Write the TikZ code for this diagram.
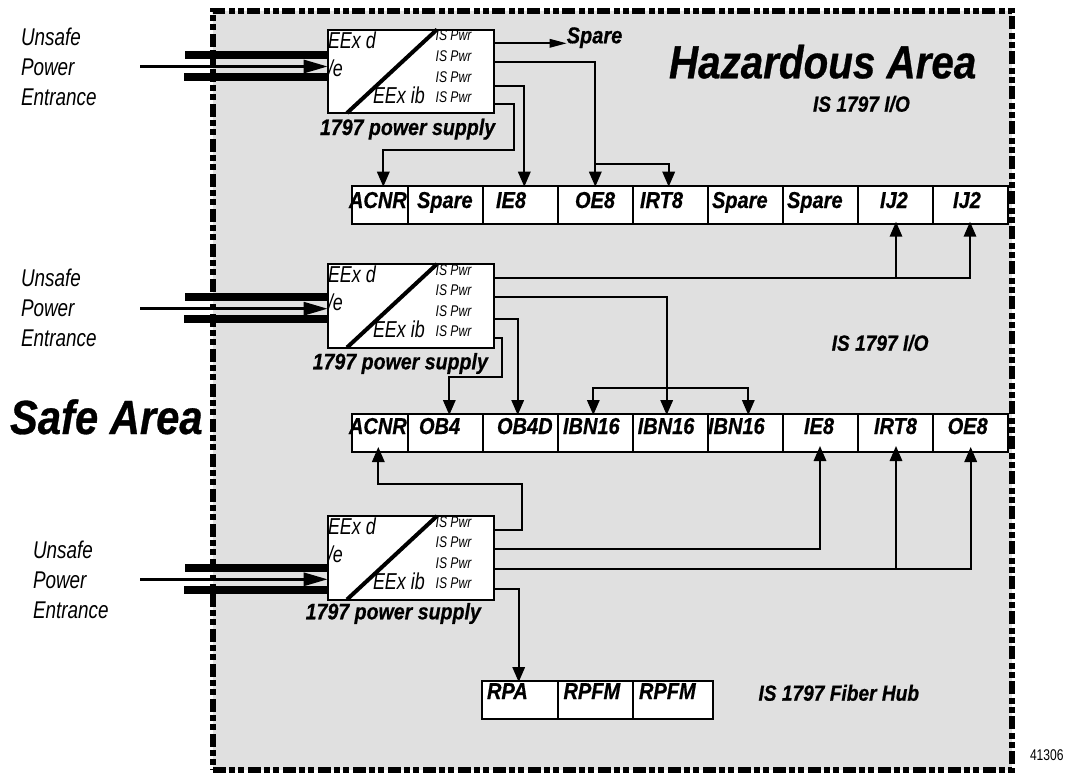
\documentclass[tikz,border=0pt]{standalone}
\usepackage{fontspec}
\setmainfont{Liberation Sans}
\newfontfamily\fbold[FakeStretch=.87,FakeBold=0.6]{Liberation Sans}
\newfontfamily\freg[FakeStretch=.78]{Liberation Sans}
\newcommand\bi[1]{\fontsize{#1}{#1}\fbold\bfseries\itshape}
\newcommand\ri[1]{\fontsize{#1}{#1}\freg\itshape}
\newcommand\ru[1]{\fontsize{#1}{#1}\freg}
\usetikzlibrary{arrows.meta}
\definecolor{hazgray}{HTML}{E0E0E0}
\tikzset{
  lab/.style={anchor=base west,inner sep=0pt,outer sep=0pt},
  cell/.style={draw=black,fill=white,line width=1.6pt,anchor=north west,inner sep=0pt,outer sep=0pt,minimum height=38pt},
  psbox/.style={draw=black,fill=white,line width=2pt,anchor=north west,inner sep=0pt,outer sep=0pt,minimum width=166pt,minimum height=83.5pt},
  conn/.style={draw=black,line width=1.7pt},
  arr/.style={conn,-{Triangle[length=15pt,width=12.5pt]}},
  longarr/.style={conn,-{Triangle[length=17pt,width=8.5pt]}},
  bar/.style={line width=8pt,black},
  inarr/.style={line width=3pt,black,-{Triangle[length=24pt,width=13pt]}},
  zone/.style={draw=black,fill=hazgray,line width=6.5pt,dash pattern=on 13pt off 3pt on 6pt off 3pt on 6pt off 4pt,anchor=north west,inner sep=0pt,outer sep=0pt,minimum width=799pt,minimum height=759pt},
}
% name, top y, port ys, input-bar ys
\newcommand\powerbox[9]{%
  \node[psbox] (#1) at (327.7,#2) {};
  \draw[line width=4pt,black] (347,#2+83.5) -- (437,#2);
  \node[lab,font=\ri{23}] (#1d) at (328,#2+18.5) {EEx d};
  \node[lab,font=\ri{23}] (#1e) at (328,#2+46.5) {/e};
  \node[lab,font=\ri{23}] (#1ib) at (373,#2+73.5) {EEx ib};
  \node[lab,font=\ri{15.5}] (#1ia) at (435.7,#2+11.2) {IS Pwr};
  \node[lab,font=\ri{15.5}] (#1ib2) at (435.7,#2+31.5) {IS Pwr};
  \node[lab,font=\ri{15.5}] (#1ic) at (435.7,#2+52.5) {IS Pwr};
  \node[lab,font=\ri{15.5}] (#1id) at (435.7,#2+72.5) {IS Pwr};
  \coordinate (#1p1) at (493.7,#3);
  \coordinate (#1p2) at (493.7,#4);
  \coordinate (#1p3) at (493.7,#5);
  \coordinate (#1p4) at (493.7,#6);
  \coordinate (#1u) at (185,#7);
  \coordinate (#1l) at (184,#9);
  \coordinate (#1m) at (140,#8);
  \draw[bar] (#1u) -- (#1.west |- #1u);
  \draw[bar] (#1l) -- (#1.west |- #1l);
  \draw[inarr] (#1m) -- (#1.west |- #1m);
}
\begin{document}
\begin{tikzpicture}[x=1pt,y=-1pt]
\useasboundingbox (0,0) rectangle (1073,774);
\fill[white] (0,0) rectangle (1073,774);
\node[zone] (zone) at (213,11) {};

% input bars and boxes
\powerbox{psa}{29.5}{43.3}{62.3}{85.7}{103.7}{54.7}{66.5}{77}
\powerbox{psb}{264}{277.7}{297.3}{319.3}{338.3}{297}{308.7}{319.3}
\powerbox{psc}{516}{529.7}{549}{568.7}{589.3}{568}{579.3}{590}

% row cells
\foreach \n/\x/\w in {a/351.7/56.3,b/408/74.7,c/482.7/75,d/557.7/75,e/632.7/75.3,f/708/75,g/783/74.7,h/857.7/75,i/932.7/75.3}{
  \node[cell,minimum width=\w pt] (ra\n) at (\x,185.7) {};
  \node[cell,minimum width=\w pt] (rb\n) at (\x,414) {};
}
\foreach \n/\x/\w in {a/482/75.7,b/557.7/75,c/632.7/80.3}{
  \node[cell,minimum width=\w pt] (rc\n) at (\x,681) {};
}

% row labels
\foreach \n/\x/\t in {a/349/ACNR,b/417/Spare,c/496/IE8,d/575/OE8,e/640/IRT8,f/712/Spare,g/787/Spare,h/880/IJ2,i/953/IJ2}{
  \node[lab,font=\bi{23}] (la\n) at (\x,208) {\t};
}
\foreach \n/\x/\t in {a/349/ACNR,b/419/OB4,c/497/OB4D,d/563/IBN16,e/637.7/IBN16,f/708/IBN16,g/804/IE8,h/874/IRT8,i/947.7/OE8}{
  \node[lab,font=\bi{23}] (lb\n) at (\x,434) {\t};
}
\foreach \n/\x/\t in {a/487/RPA,b/563.5/RPFM,c/639/RPFM}{
  \node[lab,font=\bi{23}] (lc\n) at (\x,699) {\t};
}

% caption texts
\node[lab,font=\bi{22.5}] (capa) at (320,135) {1797 power supply};
\node[lab,font=\bi{22.5}] (capb) at (312.7,369.3) {1797 power supply};
\node[lab,font=\bi{22.5}] (capc) at (305.7,619.3) {1797 power supply};
\node[lab,font=\bi{46.4}] (haz) at (669,78.3) {Hazardous Area};
\node[lab,font=\bi{48}] (safe) at (10,434) {Safe Area};
\node[lab,font=\bi{22}] (ioa) at (813,111.7) {IS 1797 I/O};
\node[lab,font=\bi{22}] (iob) at (831.7,350.7) {IS 1797 I/O};
\node[lab,font=\bi{22}] (hub) at (758.5,700.7) {IS 1797 Fiber Hub};
\node[lab,font=\bi{23}] (spare) at (566.7,43.3) {Spare};
\node[lab,font=\ru{15.5}] (num) at (1030,760) {41306};

% unsafe labels
\foreach \n/\x/\y in {a/21/45.5,b/21/286,c/33/558}{
  \node[lab,font=\ri{24.2}] (u\n a) at (\x,\y) {Unsafe};
  \node[lab,font=\ri{24.2}] (u\n b) at (\x,\y+30) {Power};
  \node[lab,font=\ri{24.2}] (u\n c) at (\x,\y+60) {Entrance};
}

% connectors, supply 1
\draw[longarr] (psap1) -- (spare.west |- psap1);
\draw[arr] (psap2) -| ([xshift=37.6pt,yshift=-1pt]rad.north west);
\coordinate (ja) at (595.3,164.3);
\draw[arr] (ja) -| ([xshift=36pt,yshift=-1pt]rae.north west);
\draw[arr] (psap3) -| ([xshift=41.6pt,yshift=-1pt]rac.north west);
\coordinate (va) at (514.3,150);
\draw[arr] (psap4) -| (va) -| ([xshift=31.6pt,yshift=-1pt]raa.north west);

% connectors, supply 2
\draw[arr] (psbp1) -| ([xshift=37.3pt,yshift=2pt]rai.south west);
\coordinate (jb) at (896,277.7);
\draw[arr] (jb) -- ([xshift=38.3pt,yshift=2pt]rah.south west);
\draw[arr] (psbp2) -| ([xshift=34pt,yshift=-1pt]rbe.north west);
\coordinate (jc) at (666.7,388.3);
\draw[arr] (jc) -| ([xshift=35.6pt,yshift=-1pt]rbd.north west);
\draw[arr] (jc) -| ([xshift=40.3pt,yshift=-1pt]rbf.north west);
\draw[arr] (psbp3) -| ([xshift=35pt,yshift=-1pt]rbc.north west);
\coordinate (vb) at (502.3,377);
\draw[arr] (psbp4) -| (vb) -| ([xshift=41.3pt,yshift=-1pt]rbb.north west);

% connectors, supply 3
\coordinate (vc) at (522.3,484.3);
\draw[arr] (pscp1) -| (vc) -| ([xshift=26.6pt,yshift=5pt]rba.south west);
\draw[arr] (pscp2) -| ([xshift=37pt,yshift=6pt]rbg.south west);
\draw[arr] (pscp3) -| ([xshift=38pt,yshift=5pt]rbi.south west);
\coordinate (jd) at (896,568.7);
\draw[arr] (jd) -- ([xshift=38.3pt,yshift=6pt]rbh.south west);
\draw[arr] (pscp4) -| ([xshift=36.7pt,yshift=-1pt]rca.north west);
\end{tikzpicture}
\end{document}
